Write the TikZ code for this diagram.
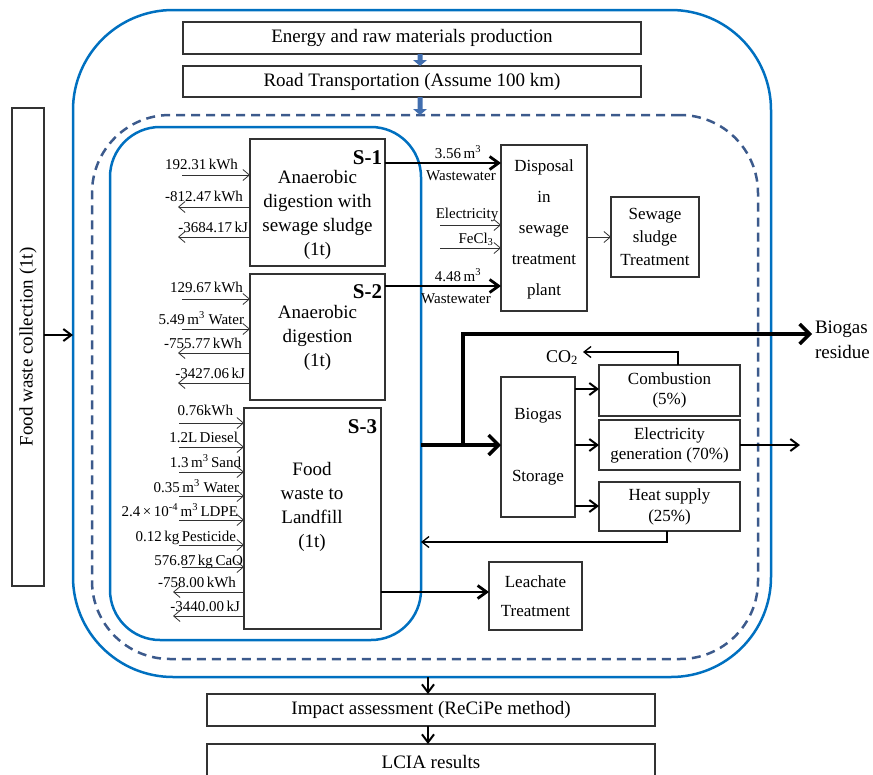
\documentclass[tikz,border=0pt]{standalone}
\usepackage{fontspec}
\setmainfont{Liberation Serif}
\usetikzlibrary{arrows.meta}
\definecolor{sblue}{RGB}{0,112,192}
\definecolor{dblue}{RGB}{60,90,140}
\definecolor{ablue}{RGB}{65,110,175}
\definecolor{bgray}{RGB}{50,50,50}
\newcommand\blkarrow[2]{\fill[ablue] (#1) ++(-2.5,0) -- ++(5,0) -- ++(0,{#2-6}) -- ++(4.5,0) -- ++(-7,6) -- ++(-7,-6) -- ++(4.5,0) -- cycle;}
\tikzset{
 box/.style={draw=bgray, line width=1.1pt, fill=white, inner sep=0pt, outer sep=0pt, align=center},
 txt/.style={inner sep=0pt, outer sep=0pt, align=center},
 fbig/.style={font=\fontsize{19}{24}\selectfont},
 fmid/.style={font=\fontsize{17}{20}\selectfont},
 fsml/.style={font=\fontsize{15}{18}\selectfont},
 fbold/.style={font=\fontsize{21}{24}\selectfont\bfseries},
 thinarr/.style={draw=bgray, line width=0.8pt, -{Straight Barb[length=6.5pt,width=11pt]}},
 retarr/.style={line width=1.3pt, -{Straight Barb[length=7pt,width=11pt]}},
 medarr/.style={line width=2pt, -{Straight Barb[length=8pt,width=12pt]}},
 wwarr/.style={line width=2.8pt, -{Straight Barb[length=9pt,width=13pt]}},
 bigarr/.style={line width=3.5pt, -{Straight Barb[length=10pt,width=20pt]}},
 cframe/.style={line width=2.5pt, inner sep=0pt, outer sep=0pt},
}
\begin{document}
\begin{tikzpicture}[x=1pt,y=-1pt]
\path[use as bounding box] (0,0) rectangle (873,774);
\clip (0,0) rectangle (873,774);
% containers
\node[cframe, draw=sblue, rounded corners=100pt, minimum width=698pt, minimum height=667pt] (outer) at (422,343.5) {};
\node[cframe, draw=dblue, dash pattern=on 9pt off 6pt, rounded corners=78pt, minimum width=666pt, minimum height=544pt] (dash) at (425,387) {};
\node[cframe, draw=sblue, rounded corners=50pt, minimum width=311pt, minimum height=513pt] (inner) at (265.5,383.5) {};
% top boxes
\node[box, fbig, minimum width=458pt, minimum height=32pt] (top1) at (412,38) {Energy and raw materials production};
\node[box, fbig, minimum width=458pt, minimum height=31pt] (top2) at (412,81.5) {Road Transportation (Assume 100 km)};
\coordinate (ba) at (420,0);
\blkarrow{top1.south -| ba}{12}
\blkarrow{top2.south -| ba}{18}
% food waste collection
\node[box, fbig, rotate=90, minimum width=478pt, minimum height=32pt] (food) at (28,347) {Food waste collection (1t)};
\coordinate (foodin) at (73,335);
\draw[medarr] (food.south |- foodin) -- (foodin);
% scenario boxes
\node[box, minimum width=135pt, minimum height=127pt] (s1) at (317.5,202.5) {};
\node[txt, fbig] (s1t) at (317.5,215) {Anaerobic\\digestion with\\sewage sludge\\(1t)};
\node[txt, fbold, anchor=base east] (s1l) at (382,164) {S-1};
\node[box, minimum width=135pt, minimum height=126pt] (s2) at (317.5,337) {};
\node[txt, fbig] (s2t) at (317.5,337.5) {Anaerobic\\digestion\\(1t)};
\node[txt, fbold, anchor=base east] (s2l) at (382,298) {S-2};
\node[box, minimum width=137pt, minimum height=221pt] (s3) at (312.5,518.5) {};
\node[txt, fbig] (s3t) at (312,507) {Food\\waste to\\Landfill\\(1t)};
\node[txt, fbold, anchor=base east] (s3l) at (377,433) {S-3};
% inputs
\foreach \bx/\x/\b/\a/\ex/\t in {
 s1/238/169/175/182/{192.31\,kWh},
 s2/243/292/299/182/{129.67\,kWh},
 s2/244/324/329/182/{5.49\,m\textsuperscript{3} Water},
 s3/233/415/423/179/{0.76kWh},
 s3/238/442/447/179/{1.2L\,Diesel},
 s3/241/467/472/179/{1.3\,m\textsuperscript{3}\,Sand},
 s3/239/492/496/179/{0.35\,m\textsuperscript{3} Water},
 s3/238/516/520/179/{2.4\,×\,10\textsuperscript{-4}\,m\textsuperscript{3}\,LDPE},
 s3/236/541/545/179/{0.12\,kg\,Pesticide},
 s3/243/565/567/182/{576.87\,kg\,CaO}}{
 \node[txt, fsml, anchor=base east] (lab-\b) at (\x,\b) {\t};
 \coordinate (st-\b) at (\ex,\a);
 \draw[thinarr] (st-\b) -- (\bx.west |- st-\b);
}
% outputs
\foreach \bx/\x/\b/\a/\ex/\t in {
 s1/243/201/207/178/{-812.47\,kWh},
 s1/248/232/237/178/{-3684.17\,kJ},
 s2/242/348/353/178/{-755.77\,kWh},
 s2/245/378/383/178/{-3427.06\,kJ},
 s3/236/587/592/173/{-758.00\,kWh},
 s3/240/611/616/173/{-3440.00\,kJ}}{
 \node[txt, fsml, anchor=base east] (lab-\b) at (\x,\b) {\t};
 \coordinate (en-\b) at (\ex,\a);
 \draw[thinarr] (\bx.west |- en-\b) -- (en-\b);
}
% sewage treatment plant
\node[box, minimum width=86pt, minimum height=166pt] (disp) at (544,228) {};
\node[txt, font=\fontsize{17}{31}\selectfont] (dispt) at (544,229) {Disposal\\in\\sewage\\treatment\\plant};
\node[box, font=\fontsize{17}{23}\selectfont, minimum width=88pt, minimum height=80pt] (sew) at (655,237) {Sewage\\sludge\\Treatment};
\coordinate (r163) at (0,163);
\coordinate (r286) at (0,286);
\draw[wwarr] (s1.east |- r163) -- (disp.west |- r163);
\draw[wwarr] (s2.east |- r286) -- (disp.west |- r286);
\node[txt, fsml, anchor=base] (ww1a) at (458,158) {3.56\,m\textsuperscript{3}};
\node[txt, fsml, anchor=base] (ww1b) at (461,180) {Wastewater};
\node[txt, fsml, anchor=base] (ww2a) at (458,281) {4.48\,m\textsuperscript{3}};
\node[txt, fsml, anchor=base] (ww2b) at (456,303) {Wastewater};
\node[txt, fsml, anchor=base] (elin) at (467,218) {Electricity};
\node[txt, fsml, anchor=base] (fein) at (476,243) {FeCl\textsubscript{3}};
\coordinate (ein) at (440,225);
\coordinate (fin) at (440,248);
\draw[thinarr] (ein) -- (disp.west |- ein);
\draw[thinarr] (fin) -- (disp.west |- fin);
\coordinate (r237) at (0,237);
\draw[thinarr] (disp.east |- r237) -- (sew.west |- r237);
% biogas
\node[box, font=\fontsize{17}{20}\selectfont, minimum width=74pt, minimum height=140pt] (bio) at (538,447) {Biogas\\[42pt]Storage};
\node[box, fmid, minimum width=141pt, minimum height=51pt] (comb) at (669.5,390.5) {Combustion\\(5\%)};
\node[box, fmid, minimum width=141pt, minimum height=50pt] (elec) at (669.5,445) {Electricity\\generation (70\%)};
\node[box, font=\fontsize{17}{21}\selectfont, minimum width=141pt, minimum height=49pt] (heat) at (669.5,506.5) {Heat supply\\(25\%)};
\coordinate (r445) at (0,445);
\coordinate (branch) at (463,445);
\coordinate (resid) at (812,334);
\draw[bigarr] (inner.east |- r445) -- (bio.west |- r445);
\draw[bigarr] (branch) |- (resid);
\node[txt, font=\fontsize{19}{25}\selectfont, anchor=west, align=left] (residt) at (815,340) {Biogas\\residue};
\foreach \n/\yy in {comb/389, elec/445, heat/506}{
 \coordinate (bo-\n) at (0,\yy);
 \draw[medarr] (bio.east |- bo-\n) -- (\n.west |- bo-\n);
}
\coordinate (eo) at (800,445);
\draw[medarr] (elec.east |- eo) -- (eo);
\coordinate (cu) at (678,352);
\coordinate (co2tip) at (583,352);
\draw[retarr] (comb.north -| cu) -- (cu) -- (co2tip);
\node[txt, font=\fontsize{18}{20}\selectfont, anchor=base] (co2) at (562,362) {CO\textsubscript{2}};
\coordinate (hr) at (667,542);
\draw[retarr] (heat.south -| hr) -- (hr) -- (inner.east |- hr);
% leachate
\node[box, font=\fontsize{17}{29}\selectfont, minimum width=93pt, minimum height=68pt] (leach) at (535.5,596) {Leachate\\Treatment};
\coordinate (lr) at (0,592);
\draw[wwarr] (s3.east |- lr) -- (leach.west |- lr);
% bottom
\node[box, fbig, minimum width=448pt, minimum height=32pt] (impact) at (431,710) {Impact assessment (ReCiPe method)};
\node[box, minimum width=448pt, minimum height=40pt] (lcia) at (431,764) {};
\node[txt, fbig] (lciat) at (431,762) {LCIA results};
\coordinate (bx) at (428,0);
\draw[medarr] (outer.south -| bx) -- (impact.north -| bx);
\draw[medarr] (impact.south -| bx) -- (lcia.north -| bx);
\end{tikzpicture}
\end{document}
